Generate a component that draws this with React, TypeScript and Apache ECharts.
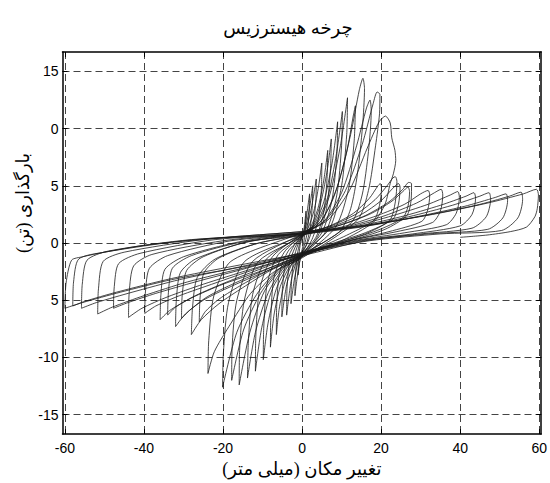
import React, { useEffect, useRef } from 'react';
import * as echarts from 'echarts';

const TITLE = 'چرخه هیسترزیس';
const X_NAME = 'تغییر مکان (میلی متر)';
const Y_NAME = 'بارگذاری (تن)';

const X_TICKS = [-60, -40, -20, 0, 20, 40, 60];
const X_TICK_LABELS = ['-60', '-40', '-20', '0', '20', '40', '60'];
const Y_TICKS = [-15, -10, -5, 0, 5, 10, 15];
const Y_TICK_LABELS = ['-15', '-10', '5', '0', '5', '0', '15'];

// displacement (mm), load (ton), cycle by cycle
const cycle01 = [[0, 0], [0.5, 1.2], [1.0, 2.8], [0.9, 1.5], [0.5, 0.2], [0, -0.6], [-0.5, -1.4], [-1.0, -2.8], [-0.9, -1.5], [-0.5, -0.2], [0, 0.5]];
const cycle02 = [[0, 0.5], [0.8, 1.6], [1.4, 3.0], [1.9, 4.3], [1.8, 2.8], [1.3, 0.9], [0.5, -0.3], [0, -0.8], [-0.7, -1.8], [-1.3, -3.2], [-1.8, -4.6], [-1.7, -3.0], [-1.2, -1.0], [-0.5, 0.1], [0, 0.6]];
const cycle03 = [[0, 0.6], [1, 1.5], [2, 3.3], [2.7, 5.0], [2.6, 3.3], [2.0, 1.2], [1, -0.2], [0, -0.8], [-1, -1.6], [-2, -3.3], [-2.8, -5.3], [-2.7, -3.6], [-2.1, -1.4], [-1, -0.1], [0, 0.5]];
const cycle04 = [[0, 0.5], [1.2, 1.4], [2.5, 3.3], [3.6, 5.6], [3.5, 3.8], [2.8, 1.5], [1.5, 0.1], [0, -0.9], [-1.5, -1.7], [-2.8, -3.4], [-3.9, -6.3], [-3.8, -4.0], [-3.2, -1.8], [-1.8, -0.4], [0, 0.6]];
const cycle05 = [[0, 0.6], [1.5, 1.3], [3, 2.8], [4.2, 5.0], [5.0, 7.0], [4.9, 4.8], [4.2, 2.2], [2.5, 0.3], [0, -1.1], [-2, -1.9], [-3.8, -3.5], [-5.1, -6.45], [-5.0, -4.2], [-4.3, -2.0], [-2.5, -0.5], [0, 0.7]];
const cycle06 = [[0, 0.7], [2, 1.3], [4, 3.0], [5.5, 5.5], [6.5, 8.1], [6.3, 5.5], [5.4, 2.5], [3.5, 0.5], [0, -0.9], [-2.5, -1.8], [-4.5, -3.6], [-5.8, -5.8], [-6.5, -8.0], [-6.4, -5.4], [-5.7, -2.6], [-3.5, -0.7], [0, 0.5]];
const cycle07 = [[0, 0.5], [2.5, 1.4], [4.5, 3.2], [6.3, 6.2], [7.4, 9.1], [7.2, 6.5], [6.2, 3.0], [4, 0.6], [0, -1.2], [-3, -2.0], [-5.5, -3.8], [-7.1, -6.3], [-8.0, -9.1], [-7.9, -6.5], [-7.1, -3.0], [-4.5, -0.8], [0, 0.7]];
const cycle08 = [[0, 0.7], [3, 1.6], [5.5, 3.6], [7.6, 7.0], [9.0, 10.6], [8.8, 7.7], [7.6, 3.8], [5, 0.9], [0, -1.0], [-3.5, -2.0], [-6.5, -4.0], [-8.6, -7.0], [-9.8, -10.2], [-9.7, -7.5], [-8.8, -3.5], [-6, -1.0], [0, 0.6]];
const cycle09 = [[0, 0.6], [3.5, 1.7], [6.5, 4.0], [8.7, 7.8], [10.2, 11.5], [10.0, 8.5], [8.8, 4.2], [6, 1.0], [0, -1.1], [-4, -2.1], [-7.5, -4.0], [-10.2, -7.4], [-11.8, -11.2], [-11.7, -8.2], [-10.7, -4.0], [-7.5, -1.2], [0, 0.8]];
const cycle10 = [[0, 0.8], [4, 1.8], [7, 4.2], [9.7, 8.5], [11.5, 12.7], [11.3, 9.5], [10, 5.0], [7, 1.3], [0, -0.9], [-4.5, -2.1], [-8.5, -4.3], [-11.8, -7.8], [-13.8, -11.8], [-13.6, -8.8], [-12.5, -4.5], [-9, -1.4], [0, 0.7]];
const cycle11 = [[0, 0.7], [4.5, 1.8], [8, 4.0], [11.2, 7.8], [13.0, 11.2], [13.5, 12.0], [13.2, 9.0], [11.8, 4.8], [8.5, 1.4], [0, -1.2], [-5, -2.2], [-9.5, -4.2], [-13.2, -7.8], [-15.9, -12.4], [-15.8, -9.4], [-14.6, -5.0], [-11, -1.6], [0, 0.6]];
const cycle12 = [[0, 0.6], [5, 2.0], [9, 5.0], [12.3, 9.5], [14.5, 13.4], [15.4, 14.4], [15.8, 13.5], [15.3, 10.2], [14.0, 6.0], [12.3, 3.0], [9.5, 1.0], [0, -1.0], [-5.5, -2.2], [-10.5, -4.4], [-14.8, -7.6], [-17.8, -12.0], [-17.7, -9.2], [-16.5, -5.0], [-12.5, -1.6], [0, 0.8]];
const cycle13 = [[0, 0.8], [5.5, 1.9], [10, 4.4], [13.8, 8.5], [16.3, 11.8], [17.2, 12.5], [17.5, 11.5], [16.8, 8.0], [15.2, 4.2], [12.5, 1.8], [0, -1.1], [-6, -2.3], [-11.5, -4.5], [-16.5, -7.8], [-20.1, -12.6], [-19.9, -9.6], [-18.6, -5.2], [-14.5, -1.6], [0, 0.7]];
const cycle14 = [[0, 0.7], [6, 2.0], [11, 4.6], [15.2, 8.6], [18, 12.2], [19.0, 13.2], [19.7, 13.0], [19.6, 11.3], [18.6, 8.5], [16.8, 4.6], [14, 2.0], [0, -1.3], [-7, -2.5], [-13, -4.4], [-18.5, -7.3], [-22.2, -9.5], [-23.8, -11.4], [-23.6, -8.5], [-22.3, -4.6], [-18, -1.6], [0, 0.9]];
const cycle15 = [[0, 0.9], [6.5, 2.0], [12, 4.6], [16.5, 8.3], [19.5, 10.6], [21.1, 11.1], [22.3, 10.5], [22.7, 9.2], [23.5, 8.1], [23.7, 7.2], [23.1, 6.05], [22.3, 5.2], [21, 3.4], [18, 1.8], [10, 0.2], [0, -1.1], [-8, -2.4], [-15, -3.9], [-21, -5.3], [-25.5, -6.7], [-28.0, -8.0], [-27.7, -5.6], [-26.5, -3.0], [-22, -1.4], [-12, -0.1], [0, 0.8]];
const cycle16 = [[0, 0.8], [7, 1.5], [13, 2.6], [17, 3.9], [19.2, 5.0], [19.8, 5.2], [20.1, 4.8], [19.6, 3.3], [18.2, 2.0], [12, 0.8], [5, -0.3], [0, -1.0], [-8, -2.3], [-15, -3.6], [-21, -4.9], [-24.5, -6.0], [-26, -6.9], [-25.8, -4.8], [-24.8, -2.6], [-21, -1.3], [-11, 0.0], [0, 0.7]];
const cycle17 = [[0, 0.7], [8, 1.6], [14, 2.6], [18.5, 3.8], [21.5, 5.0], [23.0, 5.7], [23.6, 5.8], [24.0, 5.4], [23.6, 3.6], [22.2, 2.0], [16, 0.8], [8, -0.1], [0, -1.2], [-10, -2.6], [-18, -3.8], [-25, -5.0], [-29.5, -6.2], [-32.0, -7.3], [-31.8, -5.0], [-30.8, -2.6], [-27, -1.4], [-15, 0.0], [0, 0.9]];
const cycle18 = [[0, 0.9], [8, 1.5], [15, 2.5], [20, 3.7], [23, 4.8], [24.4, 5.2], [24.8, 4.9], [24.4, 3.4], [23, 2.1], [16, 0.9], [8, 0.0], [0, -1.0], [-9, -2.3], [-17, -3.5], [-24, -4.7], [-28.5, -5.9], [-30.5, -6.6], [-30.3, -4.5], [-29.2, -2.4], [-25, -1.2], [-14, 0.1], [0, 0.8]];
const cycle19 = [[0, 0.8], [9, 1.5], [17, 2.5], [22.5, 3.6], [25.5, 4.5], [26.8, 4.9], [27.2, 4.5], [26.8, 3.2], [25.5, 2.2], [19, 1.1], [10, 0.1], [0, -0.9], [-10, -2.2], [-19, -3.4], [-27, -4.6], [-32, -5.6], [-34, -6.3], [-33.8, -4.3], [-32.8, -2.2], [-28, -1.1], [-15, 0.1], [0, 0.7]];
const cycle20 = [[0, 0.7], [9, 1.5], [16, 2.4], [22, 3.6], [25.5, 4.7], [27.0, 5.3], [27.7, 5.2], [27.6, 3.8], [26.5, 2.4], [21, 1.2], [12, 0.2], [0, -1.1], [-10, -2.4], [-20, -3.6], [-28, -4.8], [-33.5, -5.9], [-35.9, -6.7], [-35.7, -4.5], [-34.7, -2.3], [-30, -1.2], [-16, 0.1], [0, 0.9]];
const cycle21 = [[0, 0.9], [10, 1.4], [19, 2.4], [26, 3.4], [30, 4.3], [31.9, 4.6], [32.3, 4.2], [31.8, 2.9], [30.3, 1.9], [22, 1.0], [12, 0.2], [0, -0.9], [-12, -2.3], [-22, -3.5], [-31, -4.6], [-37, -5.5], [-39.8, -6.15], [-39.6, -4.2], [-38.6, -2.2], [-34, -1.1], [-18, 0.2], [0, 0.8]];
const cycle22 = [[0, 0.8], [11, 1.4], [21, 2.4], [29, 3.5], [33.5, 4.4], [35.2, 4.7], [35.6, 4.2], [35.0, 2.8], [33, 1.8], [24, 1.0], [12, 0.2], [0, -1.0], [-13, -2.3], [-25, -3.6], [-34, -4.7], [-40.5, -5.7], [-43.9, -6.5], [-43.7, -4.2], [-42.6, -2.0], [-38, -1.0], [-20, 0.2], [0, 0.9]];
const cycle23 = [[0, 0.9], [12, 1.4], [23, 2.4], [32, 3.4], [37.5, 4.2], [39.4, 4.5], [39.8, 4.0], [39.0, 2.6], [36.5, 1.6], [26, 0.9], [13, 0.2], [0, -0.8], [-14, -2.2], [-27, -3.4], [-37, -4.4], [-44, -5.2], [-47.7, -5.7], [-47.5, -3.8], [-46.4, -1.8], [-41, -0.9], [-22, 0.3], [0, 0.8]];
const cycle24 = [[0, 0.8], [13, 1.4], [25, 2.3], [35, 3.3], [41.5, 4.1], [43.5, 4.4], [43.9, 3.9], [43.0, 2.5], [40, 1.5], [28, 0.8], [14, 0.2], [0, -1.0], [-15, -2.2], [-29, -3.4], [-40, -4.6], [-48, -5.6], [-51.7, -6.2], [-51.5, -4.0], [-50.3, -1.6], [-45, -0.8], [-25, 0.3], [0, 1.0]];
const cycle25 = [[0, 1.0], [14, 1.4], [27, 2.3], [38, 3.3], [45, 4.1], [47.3, 4.4], [47.7, 3.8], [46.6, 2.3], [43, 1.3], [30, 0.8], [15, 0.2], [0, -0.9], [-16, -2.1], [-31, -3.2], [-43, -4.3], [-52, -5.2], [-55.8, -5.7], [-55.6, -3.6], [-54.4, -1.5], [-49, -0.7], [-28, 0.3], [0, 0.8]];
const cycle26 = [[0, 0.8], [15, 1.4], [29, 2.3], [41, 3.2], [49, 4.0], [51.6, 4.3], [52.0, 3.7], [50.8, 2.2], [47, 1.2], [32, 0.8], [16, 0.2], [0, -1.1], [-17, -2.2], [-33, -3.2], [-46, -4.3], [-55.5, -5.2], [-60, -5.7], [-59.7, -3.5], [-58.3, -1.5], [-55.5, -1.2], [-50, -0.8], [-40, -0.2], [-29, 0.2], [-17.6, 0.5], [0, 0.9]];
const cycle27 = [[0, 0.9], [16, 1.5], [31, 2.4], [44, 3.3], [52.5, 4.1], [55.4, 4.45], [55.8, 3.8], [54.6, 2.2], [50.5, 1.1], [35, 0.8], [17, 0.2], [0, -0.9], [-17, -2.0], [-33, -3.1], [-47, -4.3], [-55, -5.1], [-58, -5.5], [-57.8, -3.4], [-56.5, -1.4], [-50, -0.8], [-30, 0.2], [0, 1.0]];
const cycle28 = [[0, 1.0], [17, 1.6], [33, 2.5], [47, 3.5], [56, 4.3], [59.3, 4.7], [59.8, 4.2], [59.5, 3.0], [58.9, 2.3], [56.8, 1.4], [52.7, 1.0], [46.8, 0.7], [40, 0.5]];

const CYCLES = [cycle01, cycle02, cycle03, cycle04, cycle05, cycle06, cycle07, cycle08, cycle09, cycle10,
  cycle11, cycle12, cycle13, cycle14, cycle15, cycle16, cycle17, cycle18, cycle19, cycle20,
  cycle21, cycle22, cycle23, cycle24, cycle25, cycle26, cycle27, cycle28];

const ARABIC_FONT = '"Times New Roman", "Liberation Serif", "DejaVu Serif", "DejaVu Sans", serif';
const NUM_FONT = '"Liberation Sans", Arial, sans-serif';

export default function App() {
  const ref = useRef<HTMLDivElement>(null);
  useEffect(() => {
    if (!ref.current) return;
    const chart = echarts.init(ref.current, null, { renderer: 'svg' });
    const data = CYCLES.flatMap((c, i) => (i === 0 ? c : c.slice(1)));
    const xLabel = (v: number) => {
      const i = X_TICKS.indexOf(Math.round(v * 1000) / 1000);
      return i >= 0 ? X_TICK_LABELS[i] : '';
    };
    const yLabel = (v: number) => {
      const i = Y_TICKS.indexOf(Math.round(v * 1000) / 1000);
      return i >= 0 ? Y_TICK_LABELS[i] : '';
    };
    const grid = { color: '#444', type: [7, 4] as any, width: 1 };
    chart.setOption({
      animation: false,
      backgroundColor: '#fff',
      title: {
        text: TITLE,
        left: 283,
        top: 14,
        textAlign: 'center',
        textStyle: { fontFamily: ARABIC_FONT, fontSize: 18, fontWeight: 'normal', color: '#000' },
      },
      grid: { left: 62.5, right: 2, top: 52, bottom: 48.7, containLabel: false },
      xAxis: [
        {
          type: 'value', min: -60.6, max: 60.5, position: 'bottom',
          name: X_NAME, nameLocation: 'middle', nameGap: 22,
          nameTextStyle: { fontFamily: ARABIC_FONT, fontSize: 18, color: '#000' },
          axisLine: { show: true, onZero: false, lineStyle: { color: '#000', width: 1.5 } },
          axisTick: { show: true, inside: true, length: 5, customValues: X_TICKS, lineStyle: { color: '#000' } },
          axisLabel: { customValues: X_TICKS, formatter: xLabel, margin: 7, fontFamily: NUM_FONT, fontSize: 14, color: '#000' },
          splitLine: { show: true, lineStyle: grid },
        },
        {
          type: 'value', min: -60.6, max: 60.5, position: 'top',
          axisLine: { show: true, onZero: false, lineStyle: { color: '#000', width: 1.5 } },
          axisTick: { show: true, inside: true, length: 5, customValues: X_TICKS, lineStyle: { color: '#000' } },
          axisLabel: { show: false },
          splitLine: { show: false },
        },
      ],
      yAxis: [
        {
          type: 'value', min: -16.7, max: 16.7, position: 'left',
          axisLine: { show: true, onZero: false, lineStyle: { color: '#000', width: 1.5 } },
          axisTick: { show: true, inside: true, length: 5, customValues: Y_TICKS, lineStyle: { color: '#000' } },
          axisLabel: { customValues: Y_TICKS, formatter: yLabel, margin: 4, fontFamily: NUM_FONT, fontSize: 14, color: '#000' },
          splitLine: { show: true, lineStyle: grid },
        },
        {
          type: 'value', min: -16.7, max: 16.7, position: 'right',
          axisLine: { show: true, onZero: false, lineStyle: { color: '#000', width: 1.5 } },
          axisTick: { show: true, inside: true, length: 5, customValues: Y_TICKS, lineStyle: { color: '#000' } },
          axisLabel: { show: false },
          splitLine: { show: false },
        },
      ],
      graphic: [
        {
          type: 'text', x: 23, y: 203, rotation: Math.PI / 2,
          style: { text: Y_NAME, fontFamily: ARABIC_FONT, fontSize: 18, fill: '#000', align: 'center', verticalAlign: 'middle' },
        },
      ],
      series: [
        {
          type: 'line',
          xAxisIndex: 0,
          yAxisIndex: 0,
          data,
          showSymbol: false,
          symbol: 'none',
          smooth: 0.25,
          lineStyle: { color: '#1a1a1a', width: 0.8 },
          silent: true,
        },
      ],
    });
    return () => chart.dispose();
  }, []);
  return <div ref={ref} style={{ position: 'fixed', left: 0, top: 0, width: 550, height: 483 }} />;
}
